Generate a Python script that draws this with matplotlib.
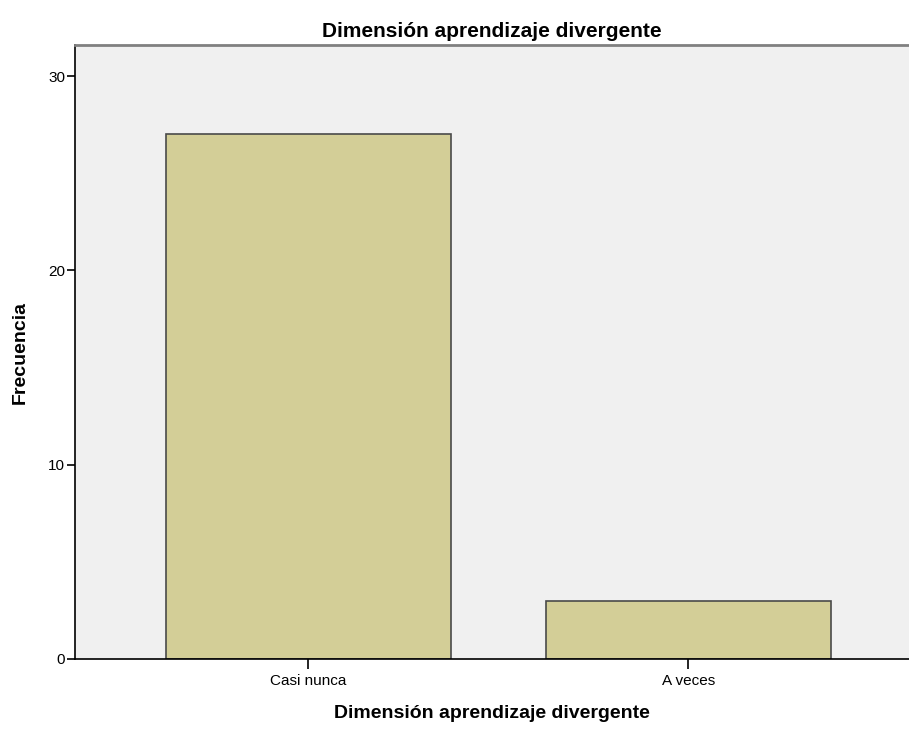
import matplotlib
matplotlib.use("Agg")
import matplotlib.pyplot as plt

categories = ["Casi nunca", "A veces"]
values = [27, 3]
yticks = [0, 10, 20, 30]
title = "Dimensión aprendizaje divergente"
xlabel = "Dimensión aprendizaje divergente"
ylabel = "Frecuencia"

plt.rcParams['font.family'] = ['Liberation Sans', 'DejaVu Sans']

fig = plt.figure(figsize=(9.09, 7.29), dpi=100)
ax = fig.add_axes([75/909, 70/729, 1 - 75/909, (659-45)/729])
ax.set_facecolor("#F0F0F0")
x = list(range(len(categories)))
ax.bar(x, values, width=0.75, color="#D3CE97", edgecolor="#4A4A4A", linewidth=1.2, zorder=2)
ax.set_xlim(-0.613, 1.58)
ax.set_ylim(0, 31.6)
ax.set_yticks(yticks)
ax.set_yticklabels([str(t) for t in yticks], fontsize=11)
ax.set_xticks(x)
ax.set_xticklabels(categories, fontsize=11)
ax.tick_params(axis='y', length=6, width=1.2, pad=1)
ax.tick_params(axis='x', length=7, width=1.2, pad=4)
for s in ["right"]:
    ax.spines[s].set_visible(False)
ax.spines["top"].set_color("#808080")
ax.spines["top"].set_linewidth(2)
ax.spines["left"].set_linewidth(1.2)
ax.spines["bottom"].set_linewidth(1.2)
ax.set_title(title, fontsize=15, fontweight="bold", pad=6)
ax.set_xlabel(xlabel, fontsize=14, fontweight="bold", labelpad=12)
ax.set_ylabel(ylabel, fontsize=14, fontweight="bold", labelpad=14)
fig.savefig("out.png", dpi=100)
